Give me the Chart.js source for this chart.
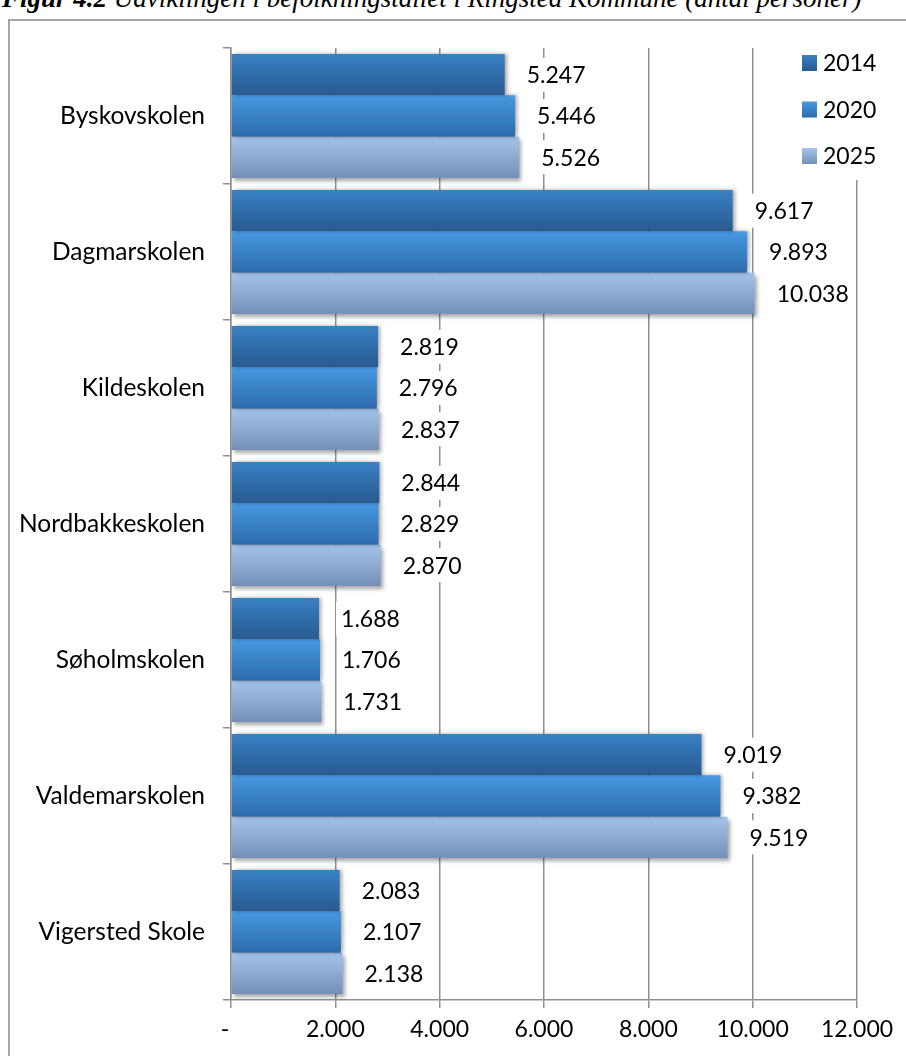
<!DOCTYPE html>
<html>
<head>
<meta charset="utf-8">
<script src="https://cdn.jsdelivr.net/npm/chart.js@4.4.1/dist/chart.umd.min.js"></script>
<style>
body { margin:0; width:906px; height:1056px; overflow:hidden; background:#fff; position:relative; }
#caption { position:absolute; left:2px; top:-15px; font-family:"Liberation Serif"; font-style:italic; font-size:27px; line-height:27px; white-space:nowrap; }
#frame { position:absolute; left:8px; top:19px; width:1000px; height:1200px; border:2px solid #a6a6a6; }
#myChart { position:absolute; left:0; top:0; }
</style>
</head>
<body>
<div id="caption"><b>Figur 4.2</b> Udviklingen i befolkningstallet i Ringsted Kommune (antal personer)</div>
<div id="frame"></div>
<canvas id="myChart" width="906" height="1056"></canvas>
<script>
var schools = ['Byskovskolen','Dagmarskolen','Kildeskolen','Nordbakkeskolen','Søholmskolen','Valdemarskolen','Vigersted Skole'];
var years = ['2014','2020','2025'];
var pop2014 = [5247, 9617, 2819, 2844, 1688, 9019, 2083];
var pop2020 = [5446, 9893, 2796, 2829, 1706, 9382, 2107];
var pop2025 = [5526, 10038, 2837, 2870, 1731, 9519, 2138];
var xTickLabels = ['-  ','2.000','4.000','6.000','8.000','10.000','12.000'];

// gradient colours per series (top -> bottom)
var topColors = ['#3a80c4', '#4799e2', '#a6c4ea'];
var bottomColors = ['#285a8f', '#2d6aac', '#7590b8'];

function fmt(v) {
  return String(v).replace(/\B(?=(\d{3})+(?!\d))/g, '.');
}

var barStyle = {
  id: 'barStyle',
  beforeDatasetDraw: function(chart, args) {
    var ctx = chart.ctx, i = args.index;
    args.meta.data.forEach(function(bar) {
      var h = bar.height;
      var g = ctx.createLinearGradient(0, bar.y - h / 2, 0, bar.y + h / 2);
      g.addColorStop(0, topColors[i]);
      g.addColorStop(1, bottomColors[i]);
      bar.options.backgroundColor = g;
    });
    ctx.save();
    ctx.shadowColor = 'rgba(0,0,0,0.35)';
    ctx.shadowBlur = 4;
    ctx.shadowOffsetX = 2;
    ctx.shadowOffsetY = i === 2 ? 3 : 0;
  },
  afterDatasetDraw: function(chart) {
    chart.ctx.restore();
  }
};

var valueLabels = {
  id: 'valueLabels',
  afterDatasetsDraw: function(chart) {
    var ctx = chart.ctx;
    ctx.save();
    ctx.font = '23px Lato';
    ctx.textBaseline = 'middle';
    chart.data.datasets.forEach(function(ds, i) {
      chart.getDatasetMeta(i).data.forEach(function(bar, j) {
        var t = fmt(ds.data[j]);
        var w = ctx.measureText(t).width;
        var x = bar.x + 22;
        ctx.fillStyle = '#fff';
        ctx.fillRect(x - 5, bar.y - 17, w + 10, 34);
        ctx.fillStyle = '#000';
        ctx.fillText(t, x, bar.y + 1);
      });
    });
    ctx.restore();
  }
};

var sideLegend = {
  id: 'sideLegend',
  afterDraw: function(chart) {
    var ctx = chart.ctx, a = chart.chartArea;
    var x0 = a.right - 55;
    ctx.save();
    ctx.fillStyle = '#fff';
    ctx.fillRect(x0 - 6, a.top - 8, 90, 140);
    ctx.font = '23px Lato';
    ctx.textBaseline = 'middle';
    chart.data.datasets.forEach(function(ds, i) {
      var cy = a.top + 15 + i * 46.5;
      var g = ctx.createLinearGradient(0, cy - 8, 0, cy + 8);
      g.addColorStop(0, topColors[i]);
      g.addColorStop(1, bottomColors[i]);
      ctx.fillStyle = g;
      ctx.fillRect(x0, cy - 8, 15, 16);
      ctx.fillStyle = '#000';
      ctx.fillText(ds.label, x0 + 21, cy + 1);
    });
    ctx.restore();
  }
};

Chart.defaults.font.family = 'Lato';
Chart.defaults.font.size = 23;
Chart.defaults.color = '#000';

var ctx = document.getElementById('myChart');
var myChart = new Chart(ctx, {
  type: 'bar',
  data: {
    labels: schools,
    datasets: [
      { label: years[0], data: pop2014, backgroundColor: function(c) { return topColors[c.datasetIndex]; } },
      { label: years[1], data: pop2020, backgroundColor: function(c) { return topColors[c.datasetIndex]; } },
      { label: years[2], data: pop2025, backgroundColor: function(c) { return topColors[c.datasetIndex]; } }
    ]
  },
  options: {
    indexAxis: 'y',
    responsive: false,
    animation: false,
    categoryPercentage: 0.91,
    barPercentage: 1.0,
    layout: { padding: { top: 48, right: 49, left: 0, bottom: 0 } },
    plugins: { legend: { display: false }, tooltip: { enabled: false } },
    scales: {
      x: {
        min: 0, max: 12000,
        ticks: { stepSize: 2000, padding: 8, callback: function(v, i) { return xTickLabels[i]; } },
        grid: { color: '#8f8f8f', lineWidth: 1.5, tickLength: 8 },
        border: { color: '#8f8f8f', width: 1.5 },
        afterFit: function(s) { s.height = 56; }
      },
      y: {
        ticks: { padding: 18, font: { size: 24.5 } },
        grid: { drawOnChartArea: false, color: '#8f8f8f', lineWidth: 1.5, tickLength: 8 },
        border: { color: '#8f8f8f', width: 1.5 },
        afterFit: function(s) { s.width = 231; }
      }
    }
  },
  plugins: [barStyle, valueLabels, sideLegend]
});
</script>
</body>
</html>
